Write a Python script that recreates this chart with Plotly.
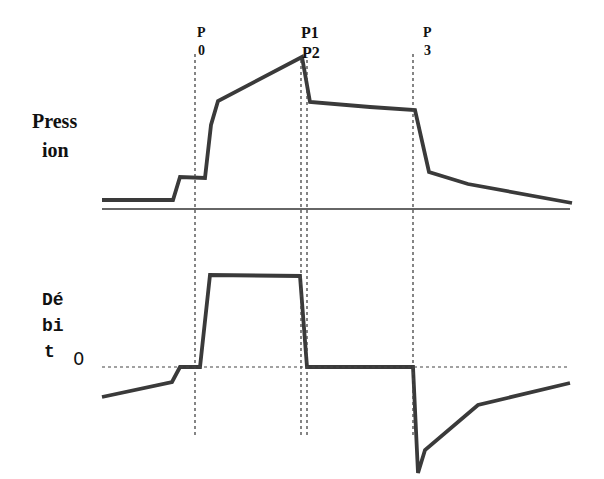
import plotly.graph_objects as go

# time axis (arbitrary units)
t_pression = [0, 71, 78, 103, 109, 116, 200, 208, 268, 313, 327, 366, 470]
pression = [9, 9, 32, 31, 84, 108, 152, 107, 102, 99, 37, 25, 6]

t_debit = [0, 70, 78, 98, 108, 198, 205, 311, 316, 323, 376, 468]
debit = [-30, -15, 0, 0, 92, 91, 0, 0, -106, -83, -38, -16]

event_t = [93, 199, 205, 311]
t_start, t_end = 0, 468

# page body has an 8px margin; compensate
OFF = 8
W, H = 604 - OFF, 479 - OFF
line_col = "#3a3a3a"

fig = go.Figure()
fig.add_trace(go.Scatter(x=t_pression, y=pression, mode="lines",
                         line=dict(color=line_col, width=3.8), yaxis="y", showlegend=False,
                         hoverinfo="skip"))
fig.add_trace(go.Scatter(x=t_debit, y=debit, mode="lines",
                         line=dict(color=line_col, width=3.8), yaxis="y2", showlegend=False,
                         hoverinfo="skip"))

def py(v):
    return 1 - (v - OFF) / H

shapes = []
shapes.append(dict(type="line", xref="x", yref="y", x0=t_start, x1=t_end, y0=0, y1=0,
                   line=dict(color="#333", width=1.4)))
shapes.append(dict(type="line", xref="x", yref="y2", x0=t_start, x1=t_end - 2, y0=0, y1=0,
                   line=dict(color="#444", width=1.2, dash="dot")))
for i, te in enumerate(event_t):
    top = py(51) if i in (0, 3) else py(58)
    shapes.append(dict(type="line", xref="x", yref="paper", x0=te, x1=te,
                       y0=py(435), y1=top,
                       line=dict(color="#444", width=1.3, dash="dot")))

ann = []
def txt(s, x, y, size, family, bold=False):
    ann.append(dict(text=(f"<b>{s}</b>" if bold else s), xref="paper", yref="paper",
                    x=(x - OFF) / W, y=py(y), showarrow=False, xanchor="center", yanchor="middle",
                    font=dict(size=size, family=family, color="#111")))

serif = "Liberation Serif, serif"
mono = "Liberation Mono, monospace"
txt("Press", 54, 121, 20, serif, True)
txt("ion", 55, 150, 20, serif, True)
txt("Dé", 53, 300, 18, mono, True)
txt("bi", 53, 326, 18, mono, True)
txt("t", 49, 352, 18, mono, True)
txt("0", 78, 358, 18, "DejaVu Sans, sans-serif")
txt("P", 202, 33, 14, serif, True)
txt("0", 201, 51, 14, serif, True)
txt("P1", 310, 33, 16, serif, True)
txt("P2", 311, 53, 16, serif, True)
txt("P", 427, 33, 14, serif, True)
txt("3", 427, 51, 14, serif, True)

fig.update_layout(
    width=W, height=H, margin=dict(l=0, r=0, t=0, b=0),
    paper_bgcolor="white", plot_bgcolor="white",
    xaxis=dict(range=[-(102 - OFF), 502], visible=False, fixedrange=True),
    yaxis=dict(domain=[249 / H, 1], range=[-21, 209 - OFF], visible=False),
    yaxis2=dict(domain=[0, 249 / H], range=[-112, 137], visible=False),
    shapes=shapes, annotations=ann,
)

fig.write_html("out.html")
